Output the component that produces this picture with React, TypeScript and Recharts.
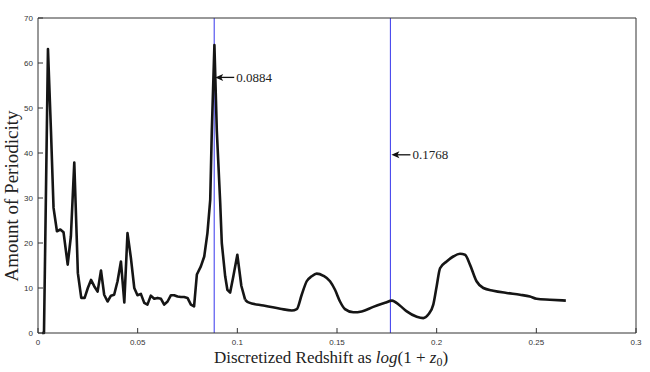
import React from "react";
import { LineChart, Line, XAxis, YAxis, ReferenceLine, ReferenceDot } from "recharts";

// curve: redshift (x) and periodicity amount (y)
const redshift = [
  0.002, 0.003, 0.005, 0.0065, 0.0078, 0.0095, 0.0112, 0.0128, 0.0149, 0.0165,
  0.0182, 0.02, 0.0217, 0.0234, 0.025, 0.0266, 0.0282, 0.0299, 0.0316, 0.0332,
  0.0349, 0.0366, 0.0382, 0.0399, 0.0416, 0.0433, 0.0449, 0.0466, 0.0483, 0.0499,
  0.0516, 0.0533, 0.0549, 0.0566, 0.0583, 0.06, 0.0617, 0.0633, 0.065, 0.0667,
  0.0683, 0.07, 0.0717, 0.0733, 0.075, 0.0767, 0.0783, 0.0797, 0.0817, 0.0834,
  0.085, 0.0864, 0.0872, 0.0885, 0.0897, 0.0914, 0.0922, 0.0939, 0.095, 0.0964,
  0.098, 0.1, 0.102, 0.1039, 0.1056, 0.1131, 0.1215, 0.1273, 0.1298, 0.1323,
  0.1348, 0.1373, 0.1398, 0.1432, 0.1465, 0.149, 0.1515, 0.154, 0.1582, 0.1624,
  0.1682, 0.1741, 0.1776, 0.1815, 0.185, 0.19, 0.1933, 0.1958, 0.1983, 0.2,
  0.2017, 0.205, 0.2083, 0.2117, 0.2142, 0.2167, 0.22, 0.2234, 0.2284, 0.2351,
  0.2418, 0.2468, 0.2501, 0.2568, 0.2648,
];
const periodicity = [
  0, 0, 63.1, 45, 27.8, 22.6, 23.0, 22.4, 15.2, 21.5,
  37.9, 13.3, 7.8, 7.8, 10.0, 11.8, 10.4, 9.2, 13.9, 8.5,
  7.0, 8.3, 8.5, 11.5, 15.9, 6.8, 22.2, 16.7, 10.0, 8.4,
  8.7, 6.7, 6.3, 8.3, 7.6, 7.8, 7.6, 6.3, 7.0, 8.4,
  8.4, 8.1, 8.0, 8.0, 7.8, 6.3, 5.9, 13.0, 14.8, 17.0,
  22.2, 29.6, 45, 64, 45, 29, 20, 12.6, 9.6, 9.0,
  12.6, 17.4, 10.5, 7.4, 6.8, 6.1, 5.4, 5.0, 5.3, 8.5,
  11.5, 12.6, 13.2, 12.7, 11.5, 9.6, 7.0, 5.3, 4.6, 4.8,
  5.8, 6.7, 7.2, 6.1, 4.8, 3.6, 3.3, 4.1, 6.3, 10.4,
  14.4, 15.9, 17.0, 17.6, 17.4, 15.2, 11.5, 10.0, 9.4, 8.9,
  8.5, 8.1, 7.6, 7.4, 7.2,
];
// the jagged low-redshift part is drawn straight, the rest smoothed
const smoothFrom = 0.1039;

const xTicks = [0, 0.05, 0.1, 0.15, 0.2, 0.25, 0.3];
const yTicks = [0, 10, 20, 30, 40, 50, 60, 70];

// marked periods and the height of their arrow notes
const markerX = [0.0884, 0.1768];
const markerY = [56.8, 39.6];

const data = redshift.map((x, i) => ({
  x,
  rough: x <= smoothFrom ? periodicity[i] : undefined,
  smooth: x >= smoothFrom ? periodicity[i] : undefined,
}));

const serif = "'Liberation Serif', 'Times New Roman', serif";
const sans = "'Liberation Sans', Arial, sans-serif";
const tickStyle = { fontSize: 8, fill: "#333", fontFamily: sans };

const ArrowNote = (text: string) => (props: any) => {
  const { cx, cy } = props;
  return (
    <g>
      <line x1={cx + 6} y1={cy} x2={cx + 20} y2={cy} stroke="#111" strokeWidth={1.3} />
      <polygon
        points={`${cx + 1},${cy} ${cx + 9},${cy - 3.5} ${cx + 7},${cy} ${cx + 9},${cy + 3.5}`}
        fill="#111"
      />
      <text x={cx + 22} y={cy + 4.5} fontSize={13} fontFamily={serif} fill="#222">
        {text}
      </text>
    </g>
  );
};

const XTitle = () => (
  <text x={331} y={363} textAnchor="middle" fontSize={17} fontFamily={serif} fill="#222">
    Discretized Redshift as{" "}
    <tspan fontStyle="italic">log</tspan>(1 + <tspan fontStyle="italic">z</tspan>
    <tspan fontSize={12} dy={3}>0</tspan>
    <tspan dy={-3}>)</tspan>
  </text>
);

const YTitle = () => (
  <text
    x={0}
    y={0}
    transform="translate(17.5,196) rotate(-90)"
    textAnchor="middle"
    fontSize={19}
    fontFamily={serif}
    fill="#222"
  >
    Amount of Periodicity
  </text>
);

export default function App() {
  return (
    <div style={{ position: "absolute", left: 0, top: 0, background: "#fff" }}>
      <LineChart width={650} height={372} data={data} margin={{ top: 0, right: 0, bottom: 0, left: 0 }}>
        <XAxis
          dataKey="x"
          type="number"
          domain={[0, 0.3]}
          ticks={xTicks}
          height={39}
          tickSize={-5}
          tickMargin={11}
          tick={tickStyle}
          stroke="#333"
          label={{ content: () => <XTitle /> }}
        />
        <XAxis
          xAxisId="top"
          orientation="top"
          dataKey="x"
          type="number"
          domain={[0, 0.3]}
          ticks={xTicks}
          height={18}
          tickSize={-5}
          tick={false}
          stroke="#333"
        />
        <YAxis
          type="number"
          domain={[0, 70]}
          ticks={yTicks}
          width={38}
          tickSize={-5}
          tickMargin={10}
          tick={tickStyle}
          stroke="#333"
          label={{ content: () => <YTitle /> }}
        />
        <YAxis
          yAxisId="right"
          orientation="right"
          type="number"
          domain={[0, 70]}
          ticks={yTicks}
          width={14}
          tickSize={-5}
          tick={false}
          stroke="#333"
        />
        {markerX.map((mx) => (
          <ReferenceLine key={`l${mx}`} x={mx} stroke="#4848ee" strokeWidth={1.1} />
        ))}
        <Line
          type="linear"
          dataKey="rough"
          stroke="#151515"
          strokeWidth={2.6}
          strokeLinejoin="round"
          dot={false}
          isAnimationActive={false}
        />
        <Line
          type="monotone"
          dataKey="smooth"
          stroke="#151515"
          strokeWidth={2.6}
          dot={false}
          isAnimationActive={false}
        />
        {markerX.map((mx, i) => (
          <ReferenceDot key={`d${mx}`} x={mx} y={markerY[i]} r={0} shape={ArrowNote(String(mx))} />
        ))}
      </LineChart>
    </div>
  );
}
